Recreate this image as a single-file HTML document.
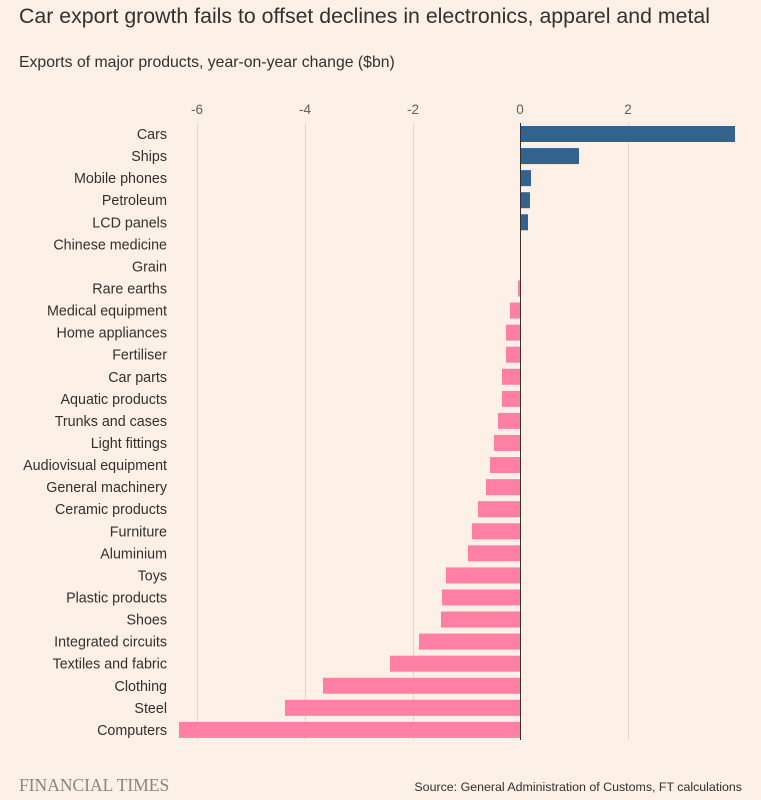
<!DOCTYPE html>
<html><head><meta charset="utf-8"><style>
body{margin:0;background:#fdf0e6;}
svg{display:block;font-family:"Liberation Sans",sans-serif;}
</style></head><body>
<svg width="761" height="800" viewBox="0 0 761 800">
<rect width="761" height="800" fill="#fdf0e6"/>
<text x="19" y="23" font-size="21.3" fill="#33302e">Car export growth fails to offset declines in electronics, apparel and metal</text>
<text x="19" y="67" font-size="15.8" fill="#33302e">Exports of major products, year-on-year change ($bn)</text>
<g font-size="13.5" fill="#66605c" text-anchor="middle">
<text x="197" y="114">-6</text><text x="305" y="114">-4</text><text x="413" y="114">-2</text><text x="520" y="114">0</text><text x="628" y="114">2</text>
</g>
<g stroke="#e0d6cc" stroke-width="1">
<line x1="197.5" y1="123" x2="197.5" y2="740"/><line x1="305.5" y1="123" x2="305.5" y2="740"/><line x1="413.5" y1="123" x2="413.5" y2="740"/><line x1="628.5" y1="123" x2="628.5" y2="740"/>
</g>
<g id="bars"></g>
<line x1="520.5" y1="123" x2="520.5" y2="740" stroke="#33302e" stroke-width="1"/>
<g id="labels" font-size="14.3" fill="#33302e" text-anchor="end"></g>
<text x="19" y="791" font-family="Liberation Serif,serif" font-size="17.5" fill="#8a8580">FINANCIAL TIMES</text>
<text x="742" y="791" font-size="12.4" fill="#33302e" text-anchor="end">Source: General Administration of Customs, FT calculations</text>
<script>
var d=[["Cars",735],["Ships",579],["Mobile phones",531],["Petroleum",530],["LCD panels",528],["Chinese medicine",520],["Grain",520],["Rare earths",518],["Medical equipment",510],["Home appliances",506],["Fertiliser",506],["Car parts",502],["Aquatic products",502],["Trunks and cases",498],["Light fittings",494],["Audiovisual equipment",490],["General machinery",486],["Ceramic products",478],["Furniture",472],["Aluminium",468],["Toys",446],["Plastic products",442],["Shoes",441],["Integrated circuits",419],["Textiles and fabric",390],["Clothing",323],["Steel",285],["Computers",179]];
var b=document.getElementById("bars"),l=document.getElementById("labels"),ns="http://www.w3.org/2000/svg";
d.forEach(function(r,i){var y=126+i*22.07;
var x=Math.min(520,r[1]),w=Math.abs(r[1]-520);
if(w>0){var e=document.createElementNS(ns,"rect");e.setAttribute("x",x);e.setAttribute("y",y);e.setAttribute("width",w);e.setAttribute("height",16);e.setAttribute("fill",r[1]>520?"#33628f":"#ff80a4");b.appendChild(e);}
var t=document.createElementNS(ns,"text");t.setAttribute("x",167);t.setAttribute("y",y+13);t.textContent=r[0];l.appendChild(t);});
</script>
</svg>
</body></html>
